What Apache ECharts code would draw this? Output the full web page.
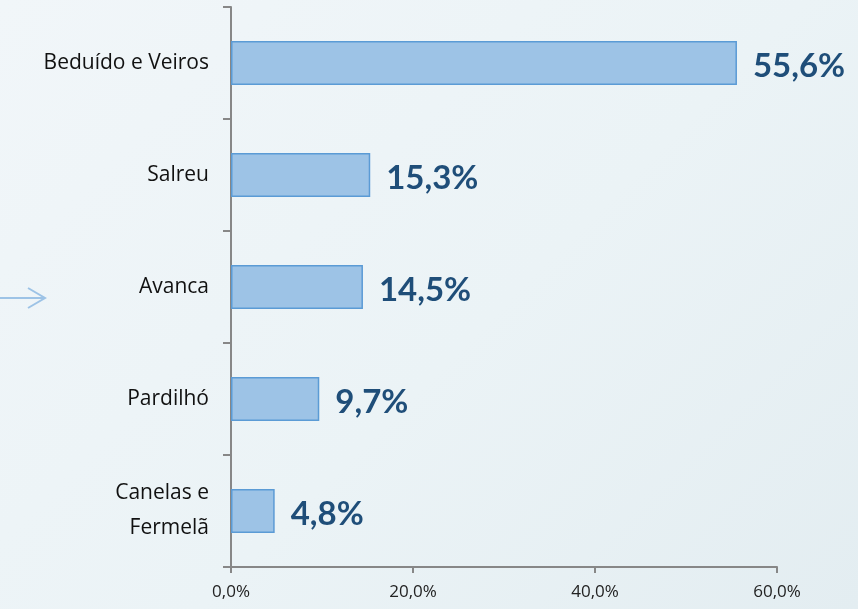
<!DOCTYPE html>
<html>
<head>
<meta charset="utf-8">
<script src="https://cdn.jsdelivr.net/npm/echarts@6/dist/echarts.min.js"></script>
<style>
  html, body { margin: 0; padding: 0; }
  #chart {
    width: 858px;
    height: 609px;
    background: linear-gradient(135deg, #f1f6f9 0%, #ebf3f6 55%, #e3edf1 100%);
  }
</style>
</head>
<body>
<div id="chart"></div>
<script>
// freguesias, top to bottom
const parishes = ['Beduído e Veiros', 'Salreu', 'Avanca', 'Pardilhó', 'Canelas e\nFermelã'];
const shares = [55.6, 15.3, 14.5, 9.7, 4.8];
const ticks = [0, 20, 40, 60];

const pct = v => v.toFixed(1).replace('.', ',') + '%';

let myChart = echarts.init(document.getElementById('chart'));
let option = {
  backgroundColor: 'transparent',
  animation: false,
  grid: {
    left: 231,
    right: 81,
    top: 7,
    bottom: 42
  },
  xAxis: {
    type: 'value',
    min: ticks[0],
    max: ticks[ticks.length - 1],
    interval: ticks[1] - ticks[0],
    axisLine: { show: true, lineStyle: { color: '#878787', width: 2 } },
    axisTick: { show: true, length: 6, lineStyle: { color: '#878787', width: 2 } },
    splitLine: { show: false },
    axisLabel: {
      margin: 17,
      color: '#222',
      fontFamily: 'Open Sans',
      fontSize: 17,
      formatter: pct
    }
  },
  yAxis: {
    type: 'category',
    data: parishes,
    inverse: true,
    axisLine: { show: true, lineStyle: { color: '#878787', width: 2 } },
    axisTick: { show: true, length: 8, lineStyle: { color: '#878787', width: 2 } },
    axisLabel: {
      margin: 22,
      color: '#111',
      fontFamily: 'Open Sans',
      fontSize: 21,
      lineHeight: 35
    }
  },
  graphic: [
    {
      type: 'polyline',
      shape: { points: [[0, 298], [45, 298]] },
      style: { stroke: '#9dc3e6', lineWidth: 2 }
    },
    {
      type: 'polyline',
      shape: { points: [[28, 288], [45, 298], [28, 308]] },
      style: { stroke: '#9dc3e6', lineWidth: 2, fill: null }
    }
  ],
  series: [
    {
      type: 'bar',
      data: shares,
      barWidth: 44,
      itemStyle: {
        color: '#9dc3e6',
        borderColor: '#5b9bd5',
        borderWidth: 1.5
      },
      label: {
        show: true,
        position: 'right',
        distance: 16,
        offset: [0, 3],
        color: '#1f4e79',
        fontFamily: 'Lato',
        fontWeight: 'bold',
        fontSize: 33,
        formatter: p => pct(p.value)
      }
    }
  ]
};
myChart.setOption(option);
</script>
</body>
</html>
